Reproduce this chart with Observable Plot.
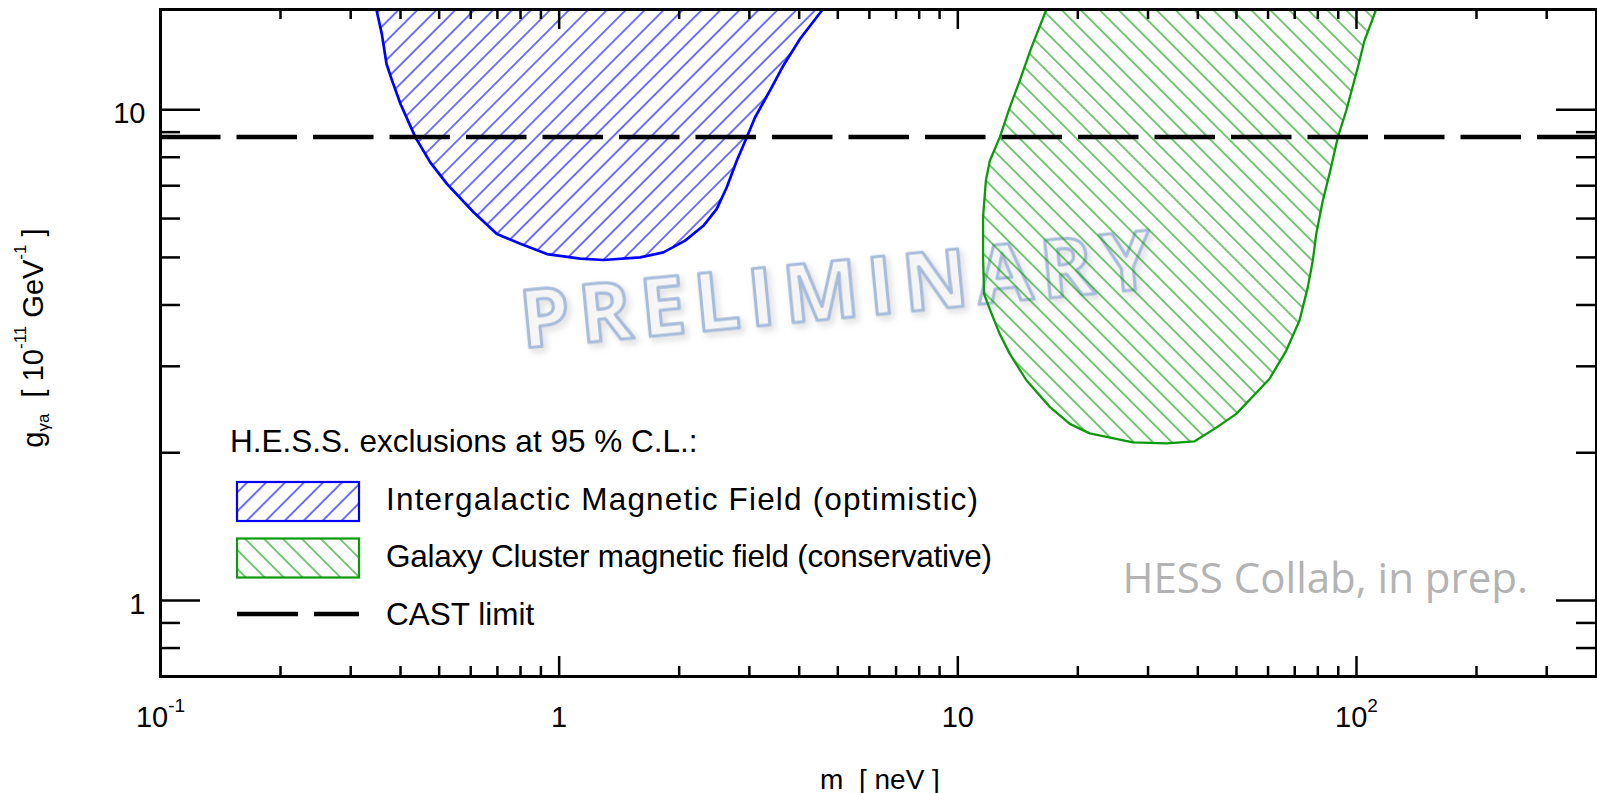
<!DOCTYPE html>
<html>
<head>
<meta charset="utf-8">
<script src="https://cdn.jsdelivr.net/npm/d3@7"></script>
<script src="https://cdn.jsdelivr.net/npm/@observablehq/plot@0.6"></script>
<style>
  html, body { margin: 0; padding: 0; background: #fff; overflow: hidden; }
  #chart svg { display: block; }
</style>
</head>
<body>
<div id="chart"></div>
<script>
// ---------- data ----------
const xDomain = [0.1, 400];
const yDomain = [0.7, 16];
const xMajorTicks = [0.1, 1, 10, 100];
const xTickLabels = ["10^{-1}", "1", "10", "10^{2}"];
const xMinorTicks = [0.2, 0.3, 0.4, 0.5, 0.6, 0.7, 0.8, 0.9, 2, 3, 4, 5, 6, 7, 8, 9,
                     20, 30, 40, 50, 60, 70, 80, 90, 200, 300];
const yMajorTicks = [1, 10];
const yTickLabels = ["1", "10"];
const yMinorTicks = [0.8, 0.9, 2, 3, 4, 5, 6, 7, 8, 9];
const castLimit = 8.8;

// Intergalactic Magnetic Field (optimistic) exclusion boundary
const igmfMass = [0.348, 0.359, 0.369, 0.381, 0.400, 0.423, 0.436, 0.475, 0.523, 0.610, 0.698,
  0.799, 0.932, 1.129, 1.291, 1.596, 1.826, 2.07, 2.30, 2.485, 2.633, 2.789, 2.954, 3.099,
  3.413, 3.649, 4.018, 4.58];
const igmfCoupling = [16.0, 14.27, 12.39, 11.46, 10.27, 9.28, 8.78, 7.81, 7.06, 6.18, 5.58,
  5.33, 5.08, 4.97, 4.94, 5.00, 5.12, 5.41, 5.80, 6.28, 6.95, 7.87, 8.78, 9.64,
  11.10, 12.29, 13.93, 16.0];

// Galaxy Cluster magnetic field (conservative) exclusion boundary
const clusterMass = [16.68, 15.30, 14.30, 13.50, 12.74, 12.03, 11.76, 11.57, 11.57, 11.64,
  12.15, 12.74, 13.50, 14.86, 17.01, 19.09, 21.42, 27.50, 33.36, 39.26, 44.50, 49.95,
  60.53, 66.66, 71.96, 75.50, 77.71, 79.25, 82.33, 85.57, 89.78, 94.23, 100.8, 104.7,
  107.8, 112.0];
const clusterCoupling = [16.0, 13.40, 11.46, 10.11, 8.78, 7.87, 7.17, 6.04, 5.00, 4.21,
  3.84, 3.49, 3.18, 2.81, 2.48, 2.29, 2.19, 2.10, 2.09, 2.11, 2.25, 2.40,
  2.83, 3.23, 3.72, 4.35, 4.93, 5.58, 6.53, 7.40, 8.78, 9.95, 12.20, 13.82,
  14.71, 16.0];

const legendTitle = "H.E.S.S. exclusions at 95 % C.L.:";
const legendLabels = ["Intergalactic Magnetic Field (optimistic)",
                      "Galaxy Cluster magnetic field (conservative)",
                      "CAST limit"];
const xTitle = "m  [ neV ]";
const yTitle = "g_{γa}  [ 10^{-11} GeV^{-1} ]";
const creditText = "HESS Collab, in prep.";
const watermarkText = "PRELIMINARY";

// ---------- layout ----------
const W = 1597, H = 793;
const mL = 160, mR = 1, mT = 9, mB = 117;
const plotW = W - mL - mR, plotH = H - mT - mB;
const blue = "#0000ff", green = "#0a9a0a";
const tickW = 2.5;

const igmf = igmfMass.map((m, i) => ({m, g: igmfCoupling[i]}));
const cluster = clusterMass.map((m, i) => ({m, g: clusterCoupling[i]}));

const svg = Plot.plot({
  width: W, height: H,
  marginLeft: mL, marginRight: mR, marginTop: mT, marginBottom: mB,
  style: {fontFamily: "'Liberation Sans', Arial, Helvetica, sans-serif", fontSize: "28px",
          color: "black", background: "white", overflow: "visible"},
  x: {type: "log", domain: xDomain, axis: null},
  y: {type: "log", domain: yDomain, axis: null},
  marks: [
    Plot.line(igmf, {x: "m", y: "g", fill: "url(#hatchBlue)", stroke: blue, strokeWidth: 2.7, curve: "linear"}),
    Plot.line(cluster, {x: "m", y: "g", fill: "url(#hatchGreen)", stroke: green, strokeWidth: 2.3, curve: "linear"}),
    Plot.ruleY([castLimit], {stroke: "black", strokeWidth: 4.5, strokeDasharray: "60.5,16"}),
    // x ticks (bottom + top, pointing inward)
    Plot.ruleX(xMajorTicks, {x: d => d, insetTop: plotH - 20, strokeWidth: tickW}),
    Plot.ruleX(xMajorTicks, {x: d => d, insetBottom: plotH - 20, strokeWidth: tickW}),
    Plot.ruleX(xMinorTicks, {x: d => d, insetTop: plotH - 10, strokeWidth: tickW}),
    Plot.ruleX(xMinorTicks, {x: d => d, insetBottom: plotH - 10, strokeWidth: tickW}),
    // y ticks (left + right, pointing inward)
    Plot.ruleY(yMajorTicks, {y: d => d, insetRight: plotW - 40, strokeWidth: tickW}),
    Plot.ruleY(yMajorTicks, {y: d => d, insetLeft: plotW - 40, strokeWidth: tickW}),
    Plot.ruleY(yMinorTicks, {y: d => d, insetRight: plotW - 20, strokeWidth: tickW}),
    Plot.ruleY(yMinorTicks, {y: d => d, insetLeft: plotW - 20, strokeWidth: tickW}),
    Plot.frame({stroke: "black", strokeWidth: 3}),
    Plot.text(xMajorTicks, {x: d => d, text: (d, i) => xTickLabels[i], frameAnchor: "bottom",
                            dy: 50, fontSize: 29, fill: "black"}),
    Plot.text(yMajorTicks, {y: d => d, text: (d, i) => yTickLabels[i], frameAnchor: "left",
                            dx: -15, dy: 4, textAnchor: "end", fontSize: 29, fill: "black"})
  ]
});

// rich text: ^{...} superscript, _{...} subscript
function rich(el, str, small, supShift, subShift) {
  const t = d3.select(el);
  t.text(null).style("white-space", "pre");
  const re = /(\^|_)\{([^}]*)\}/g;
  const parts = [];
  let last = 0, m;
  while ((m = re.exec(str))) {
    if (m.index > last) parts.push({s: str.slice(last, m.index), k: 0});
    parts.push({s: m[2], k: m[1] === "^" ? -1 : 1});
    last = re.lastIndex;
  }
  if (last < str.length) parts.push({s: str.slice(last), k: 0});
  let cur = 0;
  for (const p of parts) {
    const target = p.k === -1 ? -supShift : p.k === 1 ? subShift : 0;
    const ts = t.append("tspan").text(p.s);
    if (target - cur !== 0) ts.attr("dy", target - cur);
    if (p.k) ts.attr("font-size", small);
    cur = target;
  }
}

const root = d3.select(svg);
root.selectAll('g[aria-label="text"] text').each(function() {
  const s = this.textContent;
  if (/[\^_]\{/.test(s)) rich(this, s, 19, 15, 6);
});

// patterns + filters
const defs = root.insert("defs", ":first-child");
function hatch(id, color, angle, spacing, width) {
  const p = defs.append("pattern").attr("id", id)
    .attr("patternUnits", "userSpaceOnUse")
    .attr("width", spacing).attr("height", spacing)
    .attr("patternTransform", `rotate(${angle})`);
  p.append("line").attr("x1", spacing / 2).attr("y1", -1).attr("x2", spacing / 2).attr("y2", spacing + 1)
    .attr("stroke", color).attr("stroke-width", width);
}
hatch("hatchBlue", blue, 45, 13.4, 1.1);
hatch("hatchGreen", green, -45, 13.4, 1.1);
const f = defs.append("filter").attr("id", "wmShadow").attr("x", "-10%").attr("y", "-30%")
  .attr("width", "120%").attr("height", "160%");
f.append("feDropShadow").attr("dx", 3).attr("dy", 4).attr("stdDeviation", 3)
  .attr("flood-color", "#888").attr("flood-opacity", 0.35);

// watermark (under the data)
root.insert("text", "defs + *")
  .attr("transform", "translate(840,286) rotate(-5.5)")
  .attr("text-anchor", "middle").attr("dominant-baseline", "central")
  .attr("font-family", "'Open Sans', 'DejaVu Sans', sans-serif")
  .attr("font-weight", 700).attr("font-size", 80).attr("letter-spacing", 9)
  .attr("fill", "rgba(255,255,255,0.35)").attr("stroke", "#a7bcda").attr("stroke-width", 3.2)
  .attr("stroke-linejoin", "round").attr("filter", "url(#wmShadow)")
  .text(watermarkText);

// legend
const lg = root.append("g").attr("font-family", "'Liberation Sans', Arial, Helvetica, sans-serif")
  .attr("font-size", 31.5).attr("fill", "black").attr("text-anchor", "start");
lg.append("text").attr("x", 230).attr("y", 452).attr("text-anchor", "start").text(legendTitle);
lg.append("rect").attr("x", 237).attr("y", 482).attr("width", 122).attr("height", 39)
  .attr("fill", "url(#hatchBlue)").attr("stroke", blue).attr("stroke-width", 2.2);
lg.append("text").attr("x", 386).attr("y", 510).attr("text-anchor", "start")
  .attr("textLength", 592).attr("lengthAdjust", "spacing").text(legendLabels[0]);
lg.append("rect").attr("x", 237).attr("y", 538.5).attr("width", 122).attr("height", 39)
  .attr("fill", "url(#hatchGreen)").attr("stroke", green).attr("stroke-width", 2.2);
lg.append("text").attr("x", 386).attr("y", 567).attr("text-anchor", "start")
  .attr("textLength", 606).attr("lengthAdjust", "spacing").text(legendLabels[1]);
lg.append("line").attr("x1", 237).attr("x2", 359).attr("y1", 614).attr("y2", 614)
  .attr("stroke", "black").attr("stroke-width", 4.5).attr("stroke-dasharray", "61,16");
lg.append("text").attr("x", 386).attr("y", 625).attr("text-anchor", "start").text(legendLabels[2]);

// credit
root.append("text").attr("x", 1528).attr("y", 593).attr("text-anchor", "end")
  .attr("font-family", "'Open Sans', sans-serif").attr("font-size", 42).attr("fill", "#b3b3b3")
  .text(creditText);

// axis titles
root.append("text").attr("x", 880).attr("y", 789).attr("text-anchor", "middle")
  .attr("font-family", "'Liberation Sans', Arial, sans-serif").attr("font-size", 28)
  .style("white-space", "pre").text(xTitle);
const yt = root.append("text").attr("transform", "translate(43,338) rotate(-90)")
  .attr("text-anchor", "middle")
  .attr("font-family", "'Liberation Sans', Arial, sans-serif").attr("font-size", 29);
rich(yt.node(), yTitle, 17, 17, 6);

document.getElementById("chart").appendChild(svg);
</script>
</body>
</html>
